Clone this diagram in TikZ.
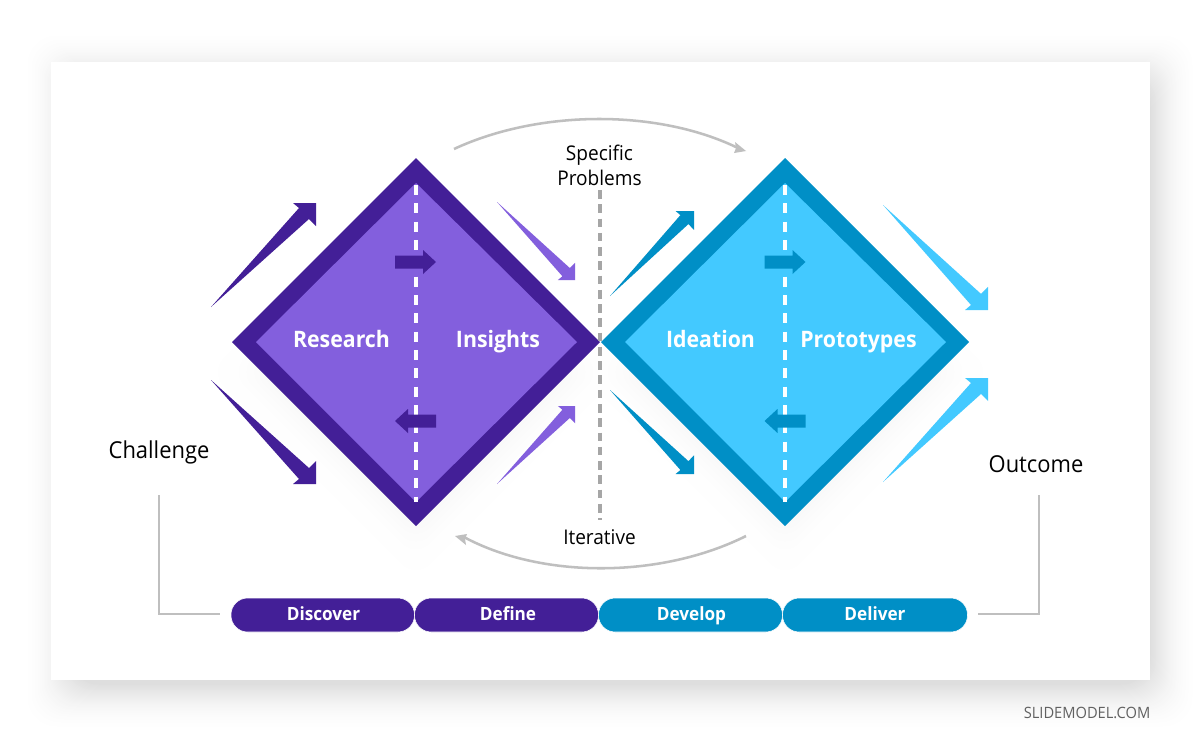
\documentclass[tikz,border=0pt]{standalone}
\usepackage{fontspec}
\setmainfont[FakeStretch=0.94]{Open Sans}
\definecolor{pdark}{HTML}{431F97}
\definecolor{plight}{HTML}{835FDD}
\definecolor{bdark}{HTML}{008FC6}
\definecolor{blight}{HTML}{43C9FF}
\definecolor{linegray}{HTML}{BFBFBF}
\definecolor{dashgray}{HTML}{A6A6A6}
\newcommand{\flagarrow}[5]{%
  \begin{scope}[shift={(#1,#2)},xscale=#3,yscale=#4]
    \fill[#5] (0,0) -- (88,99) -- (82,104) -- (105,104) -- (105,81) -- (98,88) -- cycle;
  \end{scope}}
\newcommand{\blockarrow}[4]{%
  \begin{scope}[shift={(#1,#2)},xscale=#3]
    \fill[#4] (-20.5,-6.5) -- (7.5,-6.5) -- (7.5,-12) -- (20.5,0) -- (7.5,12) -- (7.5,6.5) -- (-20.5,6.5) -- cycle;
  \end{scope}}
\newcommand{\softdiamond}[2]{%
  \foreach \k in {0,...,22} {
    \pgfmathsetmacro{\hs}{208-2.6*\k}
    \pgfmathsetmacro{\pc}{0.25*\k*\k/22*0.5+0.15}
    \fill[black!\pc,rounded corners=14pt,blend mode=darken] (#1,{#2-\hs}) -- ({#1+\hs},#2) -- (#1,{#2+\hs}) -- ({#1-\hs},#2) -- cycle;
  }}
\tikzset{
  px/.style={x=0.75pt,y=-0.75pt},
  label/.style={font=\fontsize{17.5pt}{20pt}\selectfont,text=black,inner sep=0pt,anchor=base},
  smalllabel/.style={font=\fontsize{15.2pt}{18pt}\selectfont,text=black,inner sep=0pt,anchor=base},
  inlabel/.style={font=\fontsize{17pt}{20pt}\selectfont\bfseries,text=white,inner sep=0pt,anchor=base},
  pill/.style={rounded corners=12.5pt,draw=white,line width=0.4pt},
  pilllabel/.style={font=\fontsize{13.7pt}{15pt}\selectfont\bfseries,text=white,inner sep=0pt,anchor=base},
  curve/.style={draw=linegray,line width=1.9pt},
  corner/.style={draw=linegray,line width=1.6pt},
}
\begin{document}
\begin{tikzpicture}[px]
\useasboundingbox (0,0) rectangle (1200,743);
\fill[white] (0,0) rectangle (1200,743);
% card shadow
\foreach \k in {0,...,48} {
  \pgfmathsetmacro{\pc}{13*(\k/48)*(\k/48)}
  \fill[black!\pc,rounded corners=22pt] (22+\k,30+\k) rectangle (1198-\k,732-\k);
}
\fill[white] (51,62) rectangle (1150,680);
% diamond shadows
\softdiamond{416}{372}
\softdiamond{785}{372}
% diamonds
\fill[pdark] (416,158) -- (600,342) -- (416,526) -- (232,342) -- cycle;
\fill[plight] (416,183) -- (577,342) -- (416,502) -- (256,342) -- cycle;
\fill[bdark] (785,158) -- (969,342) -- (785,526) -- (601,342) -- cycle;
\fill[blight] (785,183) -- (946,342) -- (785,502) -- (625,342) -- cycle;
% dashed lines
\coordinate (lt) at (416,185); \coordinate (lb) at (416,502);
\coordinate (rt) at (785,185); \coordinate (rb) at (785,502);
\coordinate (mt) at (600,190); \coordinate (mb) at (600,520);
\draw[white,line width=2.4pt,dash pattern=on 7.5pt off 6.25pt] (lt) -- (lb);
\draw[white,line width=2.4pt,dash pattern=on 7.5pt off 6.25pt] (rt) -- (rb);
\draw[dashgray,line width=2.4pt,dash pattern=on 6.5pt off 4.2pt] (mt) -- (mb);
% block arrows
\blockarrow{415.5}{262}{1}{pdark}
\blockarrow{415.5}{421}{-1}{pdark}
\blockarrow{785}{262}{1}{bdark}
\blockarrow{785}{421}{-1}{bdark}
% flag arrows
\flagarrow{211}{307}{1}{-1}{pdark}
\flagarrow{211}{380}{1}{1}{pdark}
\flagarrow{497}{202}{0.743}{0.75}{plight}
\flagarrow{497}{484}{0.743}{-0.75}{plight}
\flagarrow{610}{296}{0.8}{-0.817}{bdark}
\flagarrow{610}{390}{0.8}{0.808}{bdark}
\flagarrow{883}{205}{1}{1.01}{blight}
\flagarrow{883}{482}{1}{-1}{blight}
% curved arrows
\coordinate (ta) at (454,149); \coordinate (tb) at (740,149);
\coordinate (ba) at (746,536); \coordinate (bb) at (462,536);
\draw[curve] (ta) .. controls (540,109) and (660,109) .. (tb);
\fill[linegray] (746,151) -- (734,153) -- (736,148) -- (735,142) -- cycle;
\draw[curve] (ba) .. controls (660,579) and (540,579) .. (bb);
\fill[linegray] (455,536) -- (467,534) -- (465,539) -- (466,545) -- cycle;
% corner lines
\coordinate (cl) at (159,495); \coordinate (cle) at (220,614);
\coordinate (cr) at (1039,495); \coordinate (cre) at (978,614);
\draw[corner] (cl) |- (cle);
\draw[corner] (cr) |- (cre);
% pills
\fill[pill,fill=pdark] (231,598) rectangle (414.5,632);
\fill[pill,fill=pdark] (414.5,598) rectangle (598.5,632);
\fill[pill,fill=bdark] (598.5,598) rectangle (782.5,632);
\fill[pill,fill=bdark] (782.5,598) rectangle (967.5,632);
\node[pilllabel] (discover) at (323.5,620.5) {Discover};
\node[pilllabel] (define) at (508,620.5) {Define};
\node[pilllabel] (develop) at (691.5,620.5) {Develop};
\node[pilllabel] (deliver) at (875,620.5) {Deliver};
% labels
\node[inlabel] (research) at (341.5,347.5) {Research};
\node[inlabel] (insights) at (498,347.5) {Insights};
\node[inlabel] (ideation) at (710.5,347.5) {Ideation};
\node[inlabel] (prototypes) at (858.5,347.5) {Prototypes};
\node[label] (challenge) at (159,458) {Challenge};
\node[label] (outcome) at (1036,472) {Outcome};
\node[smalllabel] (specific) at (599.5,160) {Specific};
\node[smalllabel] (problems) at (599.5,185) {Problems};
\node[smalllabel] (iterative) at (599.5,544) {Iterative};
\node[font=\fontsize{11.7pt}{12pt}\selectfont,text=black!62,inner sep=0pt,anchor=base] (brand) at (1087,718) {SLIDEMODEL.COM};
\end{tikzpicture}
\end{document}
